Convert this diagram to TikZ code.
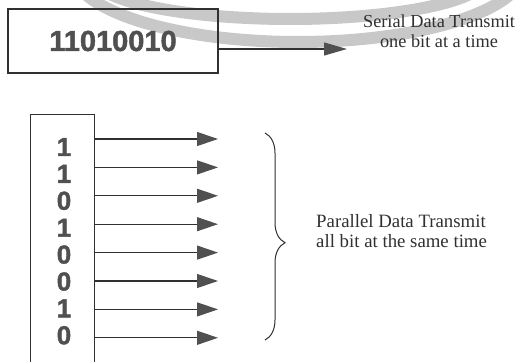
\documentclass[tikz,border=0pt]{standalone}
\usepackage{fontspec}
\setmainfont{Liberation Serif}
\newfontfamily\bitfont[FakeBold=1.6]{Liberation Sans Bold}
\usetikzlibrary{arrows.meta,decorations.pathreplacing}
\definecolor{ringgray}{HTML}{C8C8C8}
\definecolor{bitgray}{HTML}{505050}
\definecolor{inkgray}{HTML}{303030}
\begin{document}
\begin{tikzpicture}[x=1pt,y=-1pt,
        ring/.style={ringgray,line width=12pt},
        frame/.style={draw=inkgray,line width=1.3pt},
        bits/.style={text=bitgray,font=\bitfont\fontsize{29}{29}\selectfont},
        bit/.style={text=bitgray,font=\bitfont\fontsize{26}{26}\selectfont,inner sep=0pt},
        wire/.style={inkgray,line width=1.1pt,-{Triangle[length=23pt,width=13pt,color=bitgray]}},
        pwire/.style={inkgray,line width=1.1pt,-{Triangle[length=21pt,width=14pt,color=bitgray]}},
        note/.style={text=inkgray,inner sep=0pt}]
                \clip (0,0) rectangle (523,362);
                % the two grey rings at the top
                \draw[ring, domain=5:175, samples=90] plot ({298+226*cos(\x)}, {-30.5+72.5*sin(\x)});
                \draw[ring, domain=5:175, samples=90] plot ({290+196*cos(\x)}, {-22.3+41.3*sin(\x)});
                % serial
                \node[frame, bits, minimum width=210pt, minimum height=64pt] (sbox) at (113,41) {11010010};
                \coordinate (stip) at (347,49);
                \draw[wire] (sbox.east |- stip) -- (stip);
                \node[note, align=center, font=\fontsize{18.3}{20.5}\selectfont] (stext) at (439,31) {Serial Data Transmit\\one bit at a time};
                % parallel
                \node[frame, minimum width=64pt, minimum height=266pt, anchor=north west] (pbox) at (30,114) {};
                \foreach \b [count=\i] in {1,1,0,1,0,0,1,0}
                    \node[bit] (b\i) at (64,{147+26.9*(\i-1)}) {\b};
                \foreach \i in {1,...,8} {
                    \coordinate (t\i) at (218,{139+28.4*(\i-1)});
                    \draw[pwire] (pbox.east |- t\i) -- (t\i);
                }
                \coordinate (btop) at (265,133);
                \coordinate (bbot) at (265,340);
                \draw[inkgray, line width=1pt, decorate, decoration={brace, amplitude=20pt, aspect=0.53}] (btop) -- (bbot);
                \node[note, align=left, anchor=west, font=\fontsize{18.8}{19.5}\selectfont] (ptext) at (316,231) {Parallel Data Transmit\\all bit at the same time};
            \end{tikzpicture}
\end{document}
